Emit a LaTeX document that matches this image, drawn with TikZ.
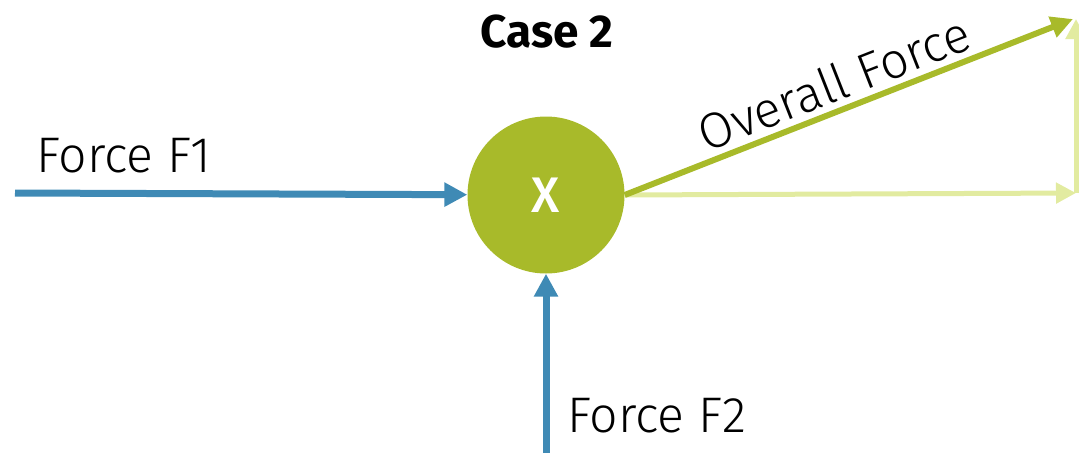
\documentclass[tikz,border=0pt]{standalone}
\usepackage{fontspec}
\setmainfont{Fira Sans}[UprightFont=* Light, BoldFont=* Bold]
\newfontfamily\medfont{Fira Sans}[UprightFont=* Medium]
\usetikzlibrary{arrows.meta}
\definecolor{forceBlue}{HTML}{3F8AB5}
\definecolor{forceGreen}{HTML}{A8BA2A}
\definecolor{lightGreen}{HTML}{E2EBA0}
\tikzset{
  forceArrow/.style={draw=forceBlue, line width=7pt, -{Triangle[length=23pt,width=23pt]}},
  resArrow/.style={draw=forceGreen, line width=6pt, -{Triangle[length=22pt,width=21pt]}},
  compArrow/.style={draw=lightGreen, line width=5pt, -{Triangle[length=20pt,width=20pt]}},
  label/.style={inner sep=0pt, font=\fontsize{50}{58}\selectfont}
}
\begin{document}
\begin{tikzpicture}[x=1pt,y=1pt]
    \useasboundingbox (0,0) rectangle (1079,-453);

    % Titre
    \node[inner sep=0pt, font=\fontsize{46}{52}\bfseries] (title) at (547,-32) {Case 2};

    % Corps
    \node[circle, fill=forceGreen, minimum size=157pt, inner sep=0pt,
          text=white, font=\fontsize{50}{58}\medfont] (body) at (546,-195) {X};

    % Points libres
    \coordinate (f1start) at (15,-193);
    \coordinate (f2start) at (546,-453);
    \coordinate (corner) at (1076,-193);
    \coordinate (top) at (1076,-19);

    % Composantes
    \draw[compArrow] (body.east) -- (corner);
    \draw[compArrow] (corner) -- (top);

    % Forces
    \draw[forceArrow] (f1start) -- (body);
    \draw[forceArrow] (f2start) -- (body);
    \draw[resArrow] (body.east) -- ([xshift=-3pt]top)
        node[label, pos=0.49, above=6pt, sloped] (overall) {Overall Force};

    % Etiquettes
    \node[label, anchor=base west] (f1label) at (36,-172) {Force F1};
    \node[label, anchor=base west] (f2label) at (567,-432) {Force F2};
\end{tikzpicture}
\end{document}
